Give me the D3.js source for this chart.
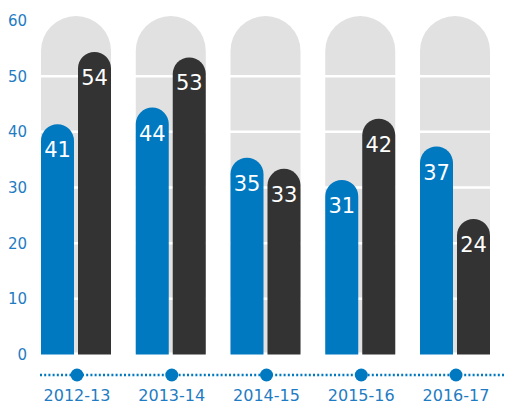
<!DOCTYPE html>
<html>
<head>
<meta charset="utf-8">
<script src="https://cdn.jsdelivr.net/npm/d3@7"></script>
<style>
  html, body { margin: 0; padding: 0; background: #fff; }
  svg { display: block; font-family: "DejaVu Sans", Verdana, sans-serif; }
</style>
</head>
<body>
<div class="canvas"></div>
<script>
// data
const years = ["2012-13", "2013-14", "2014-15", "2015-16", "2016-17"];
const blueValues = [41, 44, 35, 31, 37];
const darkValues = [54, 53, 33, 42, 24];
const yTicks = [0, 10, 20, 30, 40, 50, 60];

const width = 506;
const height = 404;

const blue = "#0079c1";
const dark = "#333333";
const grey = "#e1e1e1";
const textBlue = "#1f7cc2";

const x = d3.scaleBand()
  .domain(years)
  .range([41, 490])
  .paddingInner(0.2612)
  .paddingOuter(0);

const y = d3.scaleLinear()
  .domain([0, 60])
  .range([354.5, 20.5]);

const barW = 33;
const barGap = 4;

const svg = d3.select(".canvas").append("svg")
  .attr("width", width)
  .attr("height", height);

// path with a rounded top (half circle)
function roundTop(x0, top, w, bottom) {
  const r = w / 2;
  const p = d3.path();
  p.moveTo(x0, bottom);
  p.lineTo(x0, top + r);
  p.arc(x0 + r, top + r, r, Math.PI, 0);
  p.lineTo(x0 + w, bottom);
  p.closePath();
  return p.toString();
}

// grey background pills
svg.append("g").selectAll("path")
  .data(years)
  .join("path")
  .attr("d", d => roundTop(x(d), y(60) - 4.5, x.bandwidth(), y(0) - 2))
  .attr("fill", grey);

// white gridlines
svg.append("g").selectAll("line")
  .data(yTicks.filter(t => t > 0 && t < 60))
  .join("line")
  .attr("x1", x.range()[0])
  .attr("x2", x.range()[1])
  .attr("y1", d => y(d))
  .attr("y2", d => y(d))
  .attr("stroke", "#fff")
  .attr("stroke-width", 2.5);

// y tick labels
svg.append("g").selectAll("text")
  .data(yTicks)
  .join("text")
  .attr("x", 27)
  .attr("y", d => y(d))
  .attr("dy", "0.36em")
  .attr("text-anchor", "end")
  .attr("font-size", 15)
  .attr("fill", textBlue)
  .text(d => d);

// bars
const series = [
  { values: blueValues, color: blue, offset: 0 },
  { values: darkValues, color: dark, offset: barW + barGap }
];

series.forEach(s => {
  const g = svg.append("g");
  g.selectAll("path")
    .data(years)
    .join("path")
    .attr("d", (d, i) => roundTop(x(d) + s.offset, y(s.values[i]) - 2, barW, y(0)))
    .attr("fill", s.color);

  g.selectAll("text")
    .data(years)
    .join("text")
    .attr("x", d => x(d) + s.offset + barW / 2)
    .attr("y", (d, i) => y(s.values[i]) - 2 + 33)
    .attr("text-anchor", "middle")
    .attr("font-size", 21)
    .attr("fill", "#fff")
    .text((d, i) => s.values[i]);
});

// dotted time axis
const axisY = 375;
svg.append("line")
  .attr("x1", 40)
  .attr("x2", width)
  .attr("y1", axisY)
  .attr("y2", axisY)
  .attr("stroke", blue)
  .attr("stroke-width", 2.5)
  .attr("stroke-dasharray", "2,2.2");

svg.append("g").selectAll("circle")
  .data(years)
  .join("circle")
  .attr("cx", d => x(d) + x.bandwidth() / 2 + 1)
  .attr("cy", axisY)
  .attr("r", 6.5)
  .attr("fill", blue);

svg.append("g").selectAll("text")
  .data(years)
  .join("text")
  .attr("x", d => x(d) + x.bandwidth() / 2 + 1)
  .attr("y", 401)
  .attr("text-anchor", "middle")
  .attr("font-size", 16)
  .attr("fill", textBlue)
  .text(d => d);
</script>
</body>
</html>
